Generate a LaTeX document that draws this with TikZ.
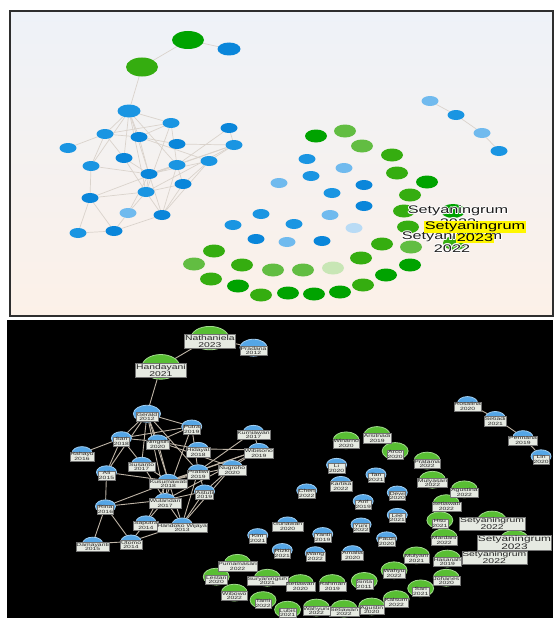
\documentclass[tikz,border=0pt]{standalone}
\usepackage{fontspec}
\setmainfont{Liberation Sans}
\newfontfamily\wide[FakeStretch=1.48]{Liberation Sans}
\usetikzlibrary{shapes.geometric}
\definecolor{tbA}{HTML}{1A95E2}
\definecolor{tbB}{HTML}{0A86DA}
\definecolor{tbC}{HTML}{70BAEE}
\definecolor{tbD}{HTML}{B9DBF5}
\definecolor{tgA}{HTML}{00A300}
\definecolor{tgB}{HTML}{35AD10}
\definecolor{tgC}{HTML}{62BD42}
\definecolor{tgD}{HTML}{C8E6B5}
\definecolor{bB}{HTML}{55A6E6}
\definecolor{bG}{HTML}{58BE33}
\definecolor{tedgec}{HTML}{DAD3CC}
\definecolor{bedgec}{HTML}{BEB4A6}
\definecolor{labfill}{HTML}{E6EAE2}
\definecolor{bgtop}{HTML}{EEF2F8}
\definecolor{bgbot}{HTML}{FCF1E8}
\definecolor{framec}{HTML}{2E2E2E}
\definecolor{hlyel}{HTML}{FFF700}
\newcommand\halo[1]{\leavevmode\rlap{\color{white}\kern.8pt#1}\rlap{\color{white}\kern-.8pt#1}\rlap{\color{white}\raisebox{.8pt}{#1}}\rlap{\color{white}\raisebox{-.8pt}{#1}}\rlap{\color{white}\kern.6pt\raisebox{.6pt}{#1}}\rlap{\color{white}\kern-.6pt\raisebox{.6pt}{#1}}\rlap{\color{white}\kern.6pt\raisebox{-.6pt}{#1}}\rlap{\color{white}\kern-.6pt\raisebox{-.6pt}{#1}}#1}
\pgfdeclarelayer{bg}\pgfdeclarelayer{edges}\pgfdeclarelayer{labels}
\pgfsetlayers{bg,edges,main,labels}
\tikzset{
  gnode/.style={ellipse, inner sep=0pt},
  tedge/.style={draw=tedgec, line width=0.7pt},
  bedge/.style={draw=bedgec, line width=0.9pt},
  blabel/.style={rectangle, fill=labfill, draw=black!55, line width=0.3pt, inner sep=0.6pt, align=center, text=black!85},
  tlabel/.style={inner sep=0pt, align=center, text=black!88, font=\wide\fontsize{11}{10}\selectfont},
}
\def\nodelist{Nat/188/40/32/18/tgA/bG/7/Nathaniela/2023,
Han/142/67/32/19/tgB/bG/7/Handayani/2021,
Fr/229/49/23/13/tbB/bB/4.6/Pradana/2012,
A/129/111/23/13/tbA/bB/4.6/Gerald/2012,
B/171/123/17/10/tbA/bB/4.6/Putra/2019,
C/229/128/17/10/tbB/bB/4.6/Kurniawan/2017,
D/105/134/17/10/tbA/bB/4.6/Sari/2018,
E/139/137/17/10/tbB/bB/4.6/Ningsih/2020,
F/68/148/17/10/tbA/bB/4.6/Rahayu/2016,
G/177/144/17/10/tbB/bB/4.6/Hidayat/2018,
H/234/145/17/10/tbA/bB/4.6/Wibisono/2019,
I/124/158/17/10/tbB/bB/4.6/Susanto/2017,
J/91/166/17/10/tbA/bB/4.6/Ali/2015,
K/177/165/17/10/tbA/bB/4.6/Pratiwi/2019,
L/209/161/17/10/tbA/bB/4.6/Nugroho/2020,
M/149/174/17/10/tbB/bB/4.6/Kusumawati/2018,
N/183/184/17/10/tbB/bB/4.6/Astuti/2019,
O/146/192/17/10/tbA/bB/4.6/Wulandari/2017,
P/90/198/17/10/tbB/bB/4.6/Rina/2016,
Q/128/213/17/10/tbC/bB/4.6/Saputra/2014,
R/162/215/17/10/tbB/bB/4.6/Handoko Wijaya/2013,
S/78/233/17/10/tbA/bB/4.6/Damayanti/2015,
T/114/231/17/10/tbB/bB/4.6/Utomo/2014,
c1/430/101/17/10/tbC/bB/4.6/Rosalina/2020,
c2/456/115/17/10/tbA/bB/4.6/Setiadi/2021,
c3/482/133/17/10/tbC/bB/4.6/Permana/2019,
c4/499/151/17/10/tbA/bB/4.6/Lin/2020,
i1/307/159/17/10/tbA/bB/4.6/Li/2020,
i2/344/168/17/10/tbC/bB/4.6/Tan/2021,
i3/311/176/17/10/tbA/bB/4.6/Kartika/2022,
i4/279/183/17/10/tbC/bB/4.6/Chen/2022,
i5/364/185/17/10/tbB/bB/4.6/Dewi/2020,
i6/332/193/17/10/tbA/bB/4.6/Arif/2019,
i7/364/206/17/10/tbB/bB/4.6/Lee/2021,
i8/261/214/17/10/tbA/bB/4.6/Gunawan/2020,
i9/330/215/17/10/tbC/bB/4.6/Yuni/2022,
i10/233/225/17/10/tbA/bB/4.6/Kim/2021,
i11/294/224/17/10/tbA/bB/4.6/Yanti/2019,
i12/354/228/17/10/tbD/bB/4.6/Fauzi/2020,
i13/256/239/17/10/tbB/bB/4.6/Rizki/2021,
i14/287/242/17/10/tbC/bB/4.6/Wang/2022,
i15/322/241/17/10/tbB/bB/4.6/Amalia/2020,
g1/316/136/22/13/tgA/bG/4.6/Winarno/2020,
g2/345/131/22/13/tgC/bG/4.6/Arsitnadi/2019,
g3/362/146/22/13/tgC/bG/4.6/Arco/2020,
g4/392/155/22/13/tgB/bG/4.6/Pratama/2022,
g5/397/173/22/13/tgB/bG/4.6/Mulyasari/2022,
g6/427/182/22/13/tgA/bG/4.6/Agustina/2022,
g7/410/195/22/13/tgB/bG/4.6/Setiawati/2022,
g8/404/211/22/13/tgB/bG/4.6/Hsu/2021,
g9/408/227/22/13/tgB/bG/4.6/Mardani/2022,
g10/411/247/22/13/tgC/bG/4.6/Hasanah/2019,
g11/410/265/22/13/tgA/bG/4.6/Johanes/2020,
g12/386/275/22/13/tgA/bG/4.6/Sari/2021,
g13/363/285/22/13/tgB/bG/4.6/Kalsum/2022,
g14/340/292/22/13/tgA/bG/4.6/Agustin/2020,
g15/314/294/22/13/tgA/bG/4.6/Setiawan/2022,
g16/288/293/22/13/tgA/bG/4.6/Wahyuni/2022,
g17/261/295/22/13/tgB/bG/4.6/Lubis/2021,
g18/238/286/22/13/tgA/bG/4.6/Tami/2022,
g19/211/279/22/13/tgB/bG/4.6/Wibowo/2022,
g20/194/264/22/13/tgC/bG/4.6/Lestari/2020,
g21/214/251/22/13/tgB/bG/4.6/Purnamasari/2022,
g22/242/265/22/13/tgB/bG/4.6/Suryaningsih/2021,
g23/273/270/22/13/tgC/bG/4.6/Setiawan/2020,
g24/303/270/22/13/tgC/bG/4.6/Rahman/2019,
g25/333/268/22/13/tgD/bG/4.6/Sinta/2011,
g26/361/258/22/13/tgB/bG/4.6/Wahyu/2022,
g27/382/244/22/13/tgB/bG/4.6/Mulyani/2021,
s1/453/211/24/14/tgA/bG/7/Setyaningrum/2022,
s3/455/243/24/14/tgB/bG/7/Setyaningrum/2022,
s2/474/229/24/14/tgA/bG/8/Setyaningrum/2023}
\def\edgelist{Nat/Han, Nat/Fr, Han/A, A/B, A/D, A/E, A/I, A/M, A/K, A/J, A/O, B/D, B/K, B/O, B/E,
D/F, D/J, D/I, D/E, E/G, E/M, E/L, G/H, C/H, C/K, H/M, H/O, H/K, H/L, L/M, L/R, L/N, I/M, I/O,
J/P, J/M, K/M, K/R, K/N, M/O, M/R, N/O, N/R, O/P, O/Q, O/R, P/S, P/T, P/K, Q/T, Q/M, S/T, T/R,
c1/c2, c2/c3, c3/c4}
\begin{document}
\begin{tikzpicture}[x=1pt,y=-1pt]
\useasboundingbox (0,0) rectangle (556,618);
\begin{pgfonlayer}{bg}
  \shade[top color=bgtop, bottom color=bgbot] (10,11) rectangle (553,316);
  \draw[framec, line width=1.8pt] (10,11) rectangle (553,316);
  \fill[black] (7,320) rectangle (553,618);
\end{pgfonlayer}
% top panel nodes
\foreach \id/\x/\y/\w/\h/\tc/\bc/\fs/\nm/\yr in \nodelist {
  \node[gnode, minimum width=\w, minimum height=\h, fill=\tc] (t\id) at (\x,\y) {};
}
% bottom panel nodes and labels
\begin{scope}[shift={(9.6,295.5)}, scale=1.065]
\foreach \id/\x/\y/\w/\h/\tc/\bc/\fs/\nm/\yr in \nodelist {
  \node[gnode, minimum width={1.18*\w}, minimum height={1.3*\h}, fill=\bc, draw=\bc!55, line width=0.8pt] (b\id) at (\x,\y) {};
  \begin{pgfonlayer}{labels}
    \node[blabel, font=\wide\fontsize{\fs}{\fs}\selectfont] (l\id) at ([yshift=-3pt]b\id.center) {\nm\\\yr};
  \end{pgfonlayer}
}
\end{scope}
% edges
\begin{pgfonlayer}{edges}
\foreach \u/\v in \edgelist {
  \draw[tedge] (t\u) -- (t\v);
  \draw[bedge] (b\u) -- (b\v);
}
\end{pgfonlayer}
% top labels
\begin{pgfonlayer}{labels}
  \node[tlabel] (tl1) at (458,216) {\halo{Setyaningrum}\\\halo{2022}};
  \node[tlabel] (tl3) at (452,242) {\halo{Setyaningrum}\\\halo{2022}};
  \node[tlabel, text=black] (tl2) at (475,232) {\setlength\fboxsep{0.5pt}\colorbox{hlyel}{Setyaningrum}\\\setlength\fboxsep{0.5pt}\colorbox{hlyel}{2023}};
\end{pgfonlayer}
\end{tikzpicture}
\end{document}
